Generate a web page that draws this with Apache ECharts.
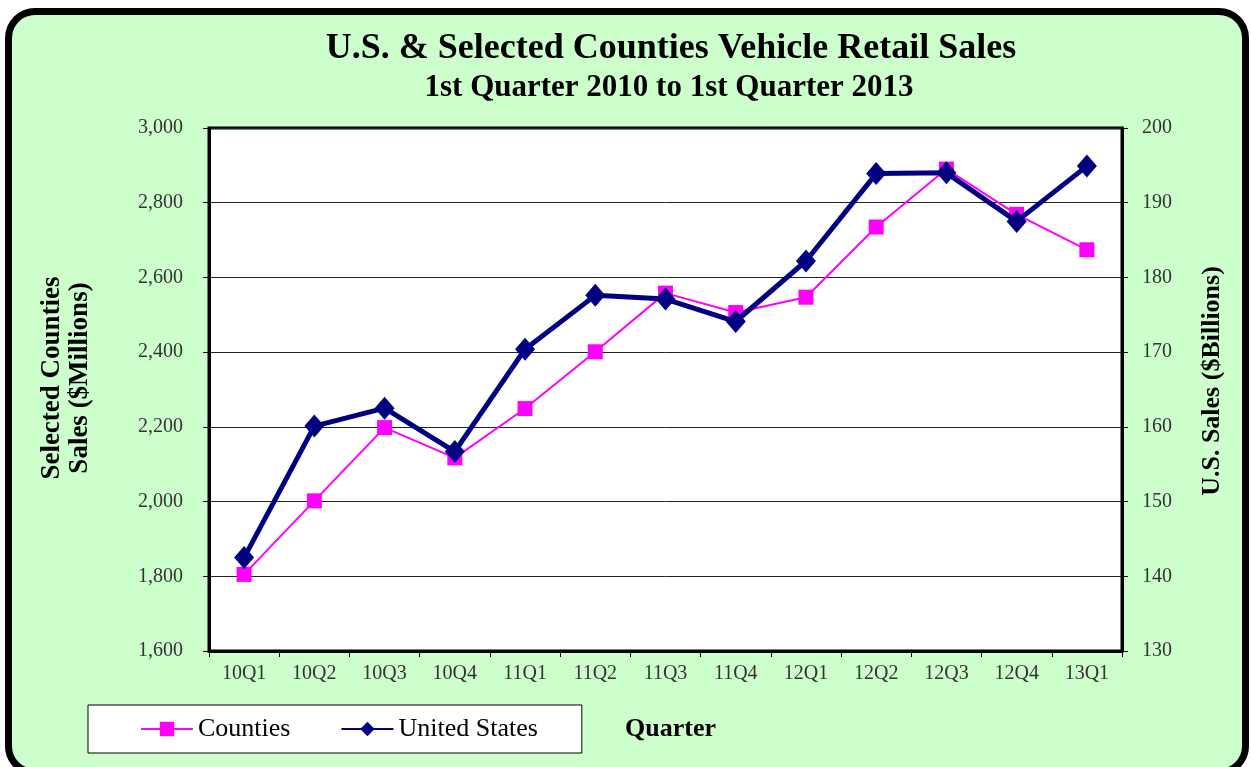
<!DOCTYPE html>
<html>
<head>
<meta charset="utf-8">
<script src="https://cdn.jsdelivr.net/npm/echarts@6/dist/echarts.min.js"></script>
<style>
html,body{margin:0;padding:0;background:#fff;width:1251px;height:767px;overflow:hidden;}
#bg{position:absolute;left:5px;top:8px;width:1244px;height:768px;box-sizing:border-box;border:7px solid #000;border-radius:30px;background:#ccffcc;}
#chart{position:absolute;left:0;top:0;width:1251px;height:767px;}
</style>
</head>
<body>
<div id="bg"></div>
<div id="chart"></div>
<script>
const quarters = ['10Q1','10Q2','10Q3','10Q4','11Q1','11Q2','11Q3','11Q4','12Q1','12Q2','12Q3','12Q4','13Q1'];
const countiesSales = [1805, 2002, 2198, 2117, 2249, 2401, 2558, 2506, 2547, 2735, 2890, 2769, 2674];
const usSales = [142.5, 160.1, 162.5, 156.7, 170.4, 177.6, 177.1, 174.1, 182.2, 193.9, 194.0, 187.5, 194.9];
const leftTicks = {min: 1600, max: 3000, interval: 200};
const rightTicks = {min: 130, max: 200, interval: 10};
const titleText = 'U.S. & Selected Counties Vehicle Retail Sales';
const subtitleText = '1st Quarter 2010 to 1st Quarter 2013';
const leftAxisTitle = 'Selected Counties\nSales ($Millions)';
const rightAxisTitle = 'U.S. Sales ($Billions)';

const FONT = 'Liberation Serif';
const chart = echarts.init(document.getElementById('chart'), null, {renderer: 'canvas'});
chart.setOption({
  backgroundColor: 'transparent',
  animation: false,
  graphic: [
    {type: 'text', x: 671, y: 49, style: {text: titleText, font: 'bold 36px "Liberation Serif"', fill: '#000', align: 'center', verticalAlign: 'middle'}},
    {type: 'text', x: 669, y: 88, style: {text: subtitleText, font: 'bold 31px "Liberation Serif"', fill: '#000', align: 'center', verticalAlign: 'middle'}},
    {type: 'text', x: 66, y: 378, rotation: Math.PI / 2, style: {text: leftAxisTitle, font: 'bold 27px "Liberation Serif"', lineHeight: 28, fill: '#000', align: 'center', verticalAlign: 'middle'}},
    {type: 'text', x: 1212, y: 381, rotation: Math.PI / 2, style: {text: rightAxisTitle, font: 'bold 26px "Liberation Serif"', fill: '#000', align: 'center', verticalAlign: 'middle'}}
  ],
  legend: {
    left: 88, top: 705,
    backgroundColor: '#fff', borderColor: '#000', borderWidth: 1,
    padding: [11, 44, 11, 52],
    itemWidth: 52, itemHeight: 18, itemGap: 50,
    textStyle: {fontFamily: FONT, fontSize: 26, color: '#000'},
    data: ['Counties', 'United States']
  },
  grid: {left: 209, right: 129, top: 128, bottom: 116, show: true, backgroundColor: '#fff', borderColor: '#000', borderWidth: 3},
  xAxis: {
    type: 'category', data: quarters, boundaryGap: true,
    name: 'Quarter', nameLocation: 'middle', nameGap: 65,
    nameTextStyle: {fontFamily: FONT, fontWeight: 'bold', fontSize: 26, color: '#000', padding: [0, 0, 0, 10]},
    axisLine: {lineStyle: {color: '#000', width: 3}},
    axisTick: {show: true, length: 6, lineStyle: {color: '#000', width: 1}},
    axisLabel: {fontFamily: FONT, fontSize: 20, color: '#333', margin: 13}
  },
  yAxis: [
    {type: 'value', min: leftTicks.min, max: leftTicks.max, interval: leftTicks.interval, position: 'left',
     axisLine: {show: true, lineStyle: {color: '#000', width: 3}},
     axisTick: {show: true, length: 6, lineStyle: {color: '#000', width: 1}},
     axisLabel: {fontFamily: FONT, fontSize: 20, color: '#333', margin: 26,
       formatter: v => v.toLocaleString('en-US')},
     splitLine: {show: true, lineStyle: {color: '#222', width: 1}}},
    {type: 'value', min: rightTicks.min, max: rightTicks.max, interval: rightTicks.interval, position: 'right',
     axisLine: {show: true, lineStyle: {color: '#000', width: 3}},
     axisTick: {show: true, length: 6, lineStyle: {color: '#000', width: 1}},
     axisLabel: {fontFamily: FONT, fontSize: 20, color: '#333', margin: 20},
     splitLine: {show: false}}
  ],
  series: [
    {name: 'Counties', type: 'line', yAxisIndex: 0, data: countiesSales,
     symbol: 'rect', symbolSize: 15,
     lineStyle: {color: '#ff00ff', width: 2}, itemStyle: {color: '#ff00ff'}, z: 2},
    {name: 'United States', type: 'line', yAxisIndex: 1, data: usSales,
     symbol: 'diamond', symbolSize: [20, 23],
     lineStyle: {color: '#000080', width: 5}, itemStyle: {color: '#000080'}, z: 3}
  ]
});
</script>
</body>
</html>
